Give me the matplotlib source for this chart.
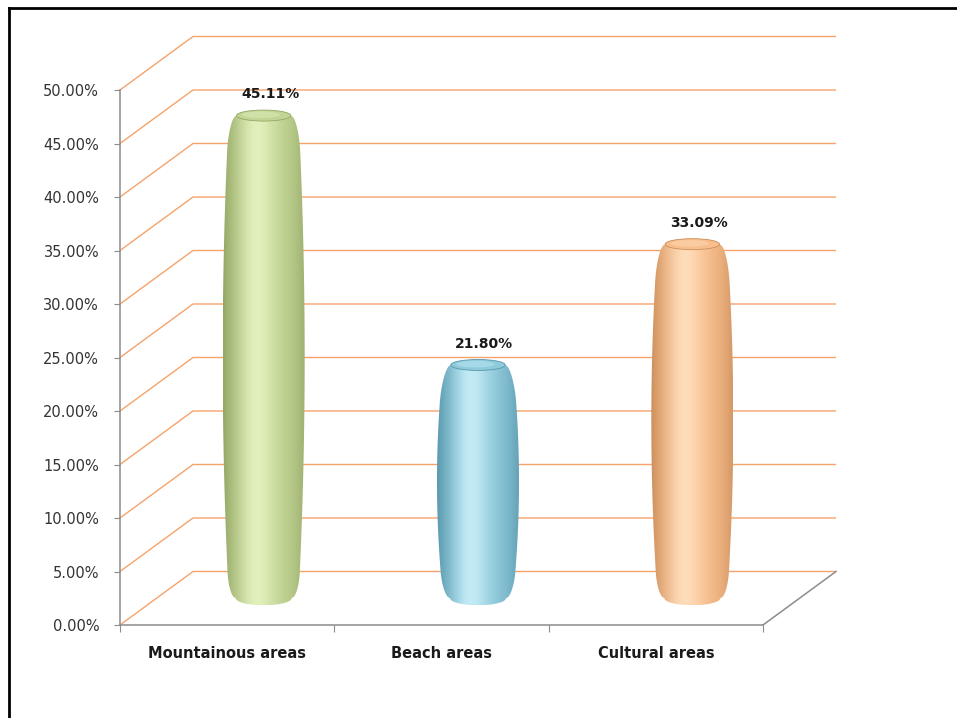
import numpy as np
import matplotlib.pyplot as plt
from matplotlib.colors import to_rgb
from matplotlib.patches import Polygon, Ellipse
from matplotlib.lines import Line2D

# ===================================== #
#                 数据                   #
# ===================================== #
categories = ['Mountainous areas', 'Beach areas', 'Cultural areas']
values = [45.11, 21.80, 33.09]          # %
y_ticks = np.arange(0, 55, 5)

# 颜色 (基色, 高光, 边缘暗色)
bar_colors = [
    ('#C2D595', '#E2F1BD', '#94A866'),
    ('#8FCADB', '#C4ECF7', '#5A98AE'),
    ('#F8BE8C', '#FFDDBB', '#CB8F5C'),
]
grid_color = '#F5A36A'
axis_color = '#8C8C8C'

# ===================================== #
#                 画布                   #
# ===================================== #
W, H = 957, 718
fig = plt.figure(figsize=(W / 100, H / 100), dpi=100)
fig.patch.set_facecolor('white')

# 前平面: x 120..763 px, y 90..625 px
ax = fig.add_axes([120 / W, (H - 625) / H, (763 - 120) / W, (625 - 90) / H])
ax.set_xlim(0, 3)
ax.set_ylim(0, 50)
ax.set_facecolor('none')

px_x = (763 - 120) / 3.0      # 每个x单位的像素
px_y = (625 - 90) / 50.0      # 每个y单位的像素
dx = 73 / px_x                # 纵深偏移
dy = 5.0

# 边框 (上, 左)
fig.add_artist(Line2D([9 / W, 1], [1 - 8 / H, 1 - 8 / H], color='black', lw=2))
fig.add_artist(Line2D([9 / W, 9 / W], [0, 1 - 8 / H], color='black', lw=2))

# ===================================== #
#               背景网格                 #
# ===================================== #
for v in y_ticks:
    ax.plot([0, dx, 3 + dx], [v, v + dy, v + dy], color=grid_color, lw=1.0,
            clip_on=False, zorder=1, solid_capstyle='butt')
# 底面右边
ax.plot([3, 3 + dx], [0, dy], color=axis_color, lw=1.1, clip_on=False, zorder=1)

# 坐标轴
for s in ['top', 'right']:
    ax.spines[s].set_visible(False)
for s in ['left', 'bottom']:
    ax.spines[s].set_color(axis_color)
    ax.spines[s].set_linewidth(1.1)
    ax.spines[s].set_zorder(2)
ax.set_yticks(y_ticks)
ax.set_yticklabels(['%.2f%%' % v for v in y_ticks])
ax.tick_params(axis='y', direction='out', length=4, color=axis_color, pad=11,
               labelsize=10.5, labelcolor='#333333')
ax.set_xticks([0, 1, 2, 3])
ax.set_xticklabels([])
ax.tick_params(axis='x', which='major', direction='out', length=5, color=axis_color)
ax.set_xticks([0.5, 1.5, 2.5], minor=True)
ax.set_xticklabels(categories, minor=True, fontweight='bold', fontsize=10.5,
                   color='#1a1a1a')
ax.tick_params(axis='x', which='minor', length=0, pad=15)

# ===================================== #
#               圆柱绘制                 #
# ===================================== #
half_w = 41 / px_x
cap_h = 5.5 / px_y
bot_h = 7.0 / px_y
r_top = 38 / px_y
r_bot = 26 / px_y


def barrel_profile(y0, y1, n=300):
    ys = np.linspace(y0, y1, n)
    t = (ys - y0) / (y1 - y0)
    hw = half_w * (1 - 0.15 * (2 * t - 1) ** 2)
    f = np.ones_like(ys)
    dt = y1 - ys
    m = dt < r_top
    f[m] = 0.78 + 0.22 * np.sqrt(1 - (1 - dt[m] / r_top) ** 2)
    db = ys - y0
    m = db < r_bot
    f[m] = np.minimum(f[m], 0.8 + 0.2 * np.sqrt(1 - (1 - db[m] / r_bot) ** 2))
    return ys, hw * f


def shade_img(base, hi, dark, n=256):
    u = np.linspace(-1, 1, n)
    b = np.array(to_rgb(base))
    h = np.array(to_rgb(hi))
    d = np.array(to_rgb(dark))
    light = np.exp(-((u + 0.2) / 0.45) ** 2)
    edge = np.clip(np.abs(u) ** 2.5, 0, 1) * np.where(u < 0, 1.0, 0.8)
    col = b[None, :] * (1 - light[:, None]) + h[None, :] * light[:, None]
    col = col * (1 - edge[:, None]) + d[None, :] * edge[:, None]
    return col[None, :, :]


for i, (v, (base, hi, dark)) in enumerate(zip(values, bar_colors)):
    cx = i + 0.5 + dx / 2
    y0 = dy / 2
    y1 = v + dy / 2
    ys, hw = barrel_profile(y0, y1)
    top_w = hw[-1]
    bot_w = hw[0]
    th = np.linspace(np.pi, 0, 60)
    top_arc = np.column_stack([cx + top_w * np.cos(th), y1 + cap_h * np.sin(th)])
    th2 = np.linspace(0, -np.pi, 60)
    bot_arc = np.column_stack([cx + bot_w * np.cos(th2), y0 + bot_h * np.sin(th2)])
    left = np.column_stack([cx - hw, ys])
    right = np.column_stack([cx + hw[::-1], ys[::-1]])
    outline = np.vstack([left, top_arc, right, bot_arc])

    poly = Polygon(outline, closed=True, facecolor='none', edgecolor='none',
                   transform=ax.transData)
    ax.add_patch(poly)
    img = ax.imshow(shade_img(base, hi, dark), extent=(cx - half_w, cx + half_w,
                    y0 - bot_h, y1 + cap_h), aspect='auto', zorder=3,
                    interpolation='bilinear')
    img.set_clip_path(poly)

    # 顶面
    cap = Ellipse((cx, y1), 2 * top_w, 2 * cap_h, facecolor=base,
                  edgecolor=dark, lw=0.6, zorder=4, clip_on=False)
    ax.add_patch(cap)
    cap_hi = Ellipse((cx - 0.1 * top_w, y1 + 0.15 * cap_h), 1.4 * top_w, 1.2 * cap_h,
                     facecolor=hi, edgecolor='none', alpha=0.45, zorder=4, clip_on=False)
    ax.add_patch(cap_hi)

    ax.text(cx + 0.03, y1 + 2.0, '%.2f%%' % v, ha='center', va='center',
            fontsize=10, fontweight='bold', color='#1a1a1a', zorder=5, clip_on=False)

ax.set_xlim(0, 3)
ax.set_ylim(0, 50)

fig.savefig('out.png', dpi=100)
